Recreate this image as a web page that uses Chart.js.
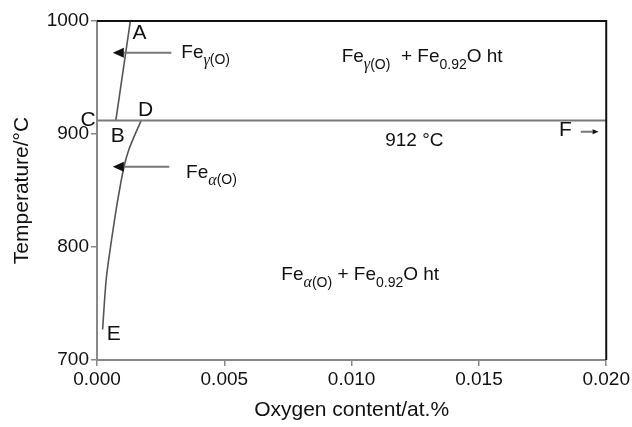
<!DOCTYPE html>
<html>
<head>
<meta charset="utf-8">
<script src="https://cdn.jsdelivr.net/npm/chart.js@4.4.1/dist/chart.umd.min.js"></script>
<style>
  body { margin: 0; background: #fff; }
  #wrap { width: 632px; height: 427px; }
</style>
</head>
<body>
<div id="wrap"><canvas id="myChart" width="632" height="427"></canvas></div>
<script>
// phase boundary A-B (gamma side), oxygen at.% vs temperature
var abX = [0.00074, 0.00131];
var abT = [912, 1000];

// phase boundary D-E (alpha side)
var deX = [0.00174, 0.00152, 0.00125, 0.00106, 0.00088, 0.00073, 0.00053, 0.00036, 0.00022];
var deT = [912, 901, 886, 871, 850, 830, 800, 771, 727];

// eutectoid line
var isoX = [0, 0.020];
var isoT = [912, 912];

// axis ticks
var xTicks = [0, 0.005, 0.010, 0.015, 0.020];
var yTicks = [700, 800, 900, 1000];

// point letters
var letterText = ["A", "B", "C", "D", "E", "F"];
var letterX = [0.00167, 0.00082, -0.00035, 0.00191, 0.00066, 0.0184];
var letterT = [989, 898, 912, 921, 723, 903];

// arrows (from -> to)
var arrowFromX = [0.00292, 0.00284, 0.0190];
var arrowToX = [0.00062, 0.00062, 0.0197];
var arrowT = [972, 871, 902];

function pts(xs, ts) {
    return xs.map((x, i) => ({ x: x, y: ts[i] }));
}

var FONT = "'Liberation Sans', Arial, sans-serif";
var GREEK = "'Liberation Serif', serif";

// rich labels: [text, size, dy, font, italic]
var richLabels = [
    { x: 0.00331, t: 972, parts: [["Fe", 19, 0, FONT], ["\u03B3", 16, 8, GREEK, true], ["(O)", 14, 8, FONT]] },
    { x: 0.00350, t: 866, parts: [["Fe", 19, 0, FONT], ["\u03B1", 16, 8, GREEK, true], ["(O)", 14, 8, FONT]] },
    { x: 0.00961, t: 968, parts: [["Fe", 19, 0, FONT], ["\u03B3", 16, 8, GREEK, true], ["(O)", 14, 8, FONT],
        ["  + Fe", 19, 0, FONT], ["0.92", 14, 8, FONT], ["O ht", 19, 0, FONT]] },
    { x: 0.00724, t: 775, parts: [["Fe", 19, 0, FONT], ["\u03B1", 16, 8, GREEK, true], ["(O)", 14, 8, FONT],
        [" + Fe", 19, 0, FONT], ["0.92", 14, 8, FONT], ["O ht", 19, 0, FONT]] },
    { x: 0.01132, t: 894, parts: [["912 \u00B0C", 19, 0, FONT]] }
];

const annot = {
    id: 'annot',
    afterDraw(chart) {
        const ctx = chart.ctx;
        const xs = chart.scales.x, ys = chart.scales.y;
        const a = chart.chartArea;
        ctx.save();

        // top and right frame
        ctx.strokeStyle = '#111';
        ctx.lineWidth = 2;
        ctx.beginPath();
        ctx.moveTo(a.left, a.top);
        ctx.lineTo(a.right, a.top);
        ctx.lineTo(a.right, a.bottom);
        ctx.stroke();

        // arrows
        arrowT.forEach((t, i) => {
            const x0 = xs.getPixelForValue(arrowFromX[i]);
            const x1 = xs.getPixelForValue(arrowToX[i]);
            const y = ys.getPixelForValue(t);
            const dir = x1 < x0 ? 1 : -1;
            const hl = i < 2 ? 11 : 6, hw = i < 2 ? 5 : 2.5;
            ctx.strokeStyle = '#777';
            ctx.lineWidth = 2;
            ctx.beginPath();
            ctx.moveTo(x0, y);
            ctx.lineTo(x1 + dir * hl, y);
            ctx.stroke();
            ctx.fillStyle = '#111';
            ctx.beginPath();
            ctx.moveTo(x1, y);
            ctx.lineTo(x1 + dir * hl, y - hw);
            ctx.lineTo(x1 + dir * hl, y + hw);
            ctx.closePath();
            ctx.fill();
        });

        // letters
        ctx.fillStyle = '#111';
        ctx.textAlign = 'center';
        ctx.textBaseline = 'middle';
        ctx.font = '21px ' + FONT;
        letterText.forEach((s, i) => {
            ctx.fillText(s, xs.getPixelForValue(letterX[i]), ys.getPixelForValue(letterT[i]));
        });

        // rich labels
        ctx.textAlign = 'left';
        richLabels.forEach(l => {
            let x = xs.getPixelForValue(l.x);
            const y = ys.getPixelForValue(l.t);
            l.parts.forEach(p => {
                ctx.font = (p[4] ? 'italic ' : '') + p[1] + 'px ' + p[3];
                ctx.fillText(p[0], x, y + p[2]);
                x += ctx.measureText(p[0]).width;
            });
        });

        // axis titles
        ctx.font = '21px ' + FONT;
        ctx.textAlign = 'center';
        ctx.fillText('Oxygen content/at.%', (a.left + a.right) / 2, 410);
        ctx.translate(22, (a.top + a.bottom) / 2);
        ctx.rotate(-Math.PI / 2);
        ctx.fillText('Temperature/\u00B0C', 0, 0);
        ctx.restore();
    }
};

var lineStyle = { showLine: true, pointRadius: 0, fill: false };

var config = {
    type: 'scatter',
    data: {
        datasets: [
            Object.assign({ data: pts(isoX, isoT), borderColor: '#7a7a7a', borderWidth: 2 }, lineStyle),
            Object.assign({ data: pts(abX, abT), borderColor: '#555', borderWidth: 1.6 }, lineStyle),
            Object.assign({ data: pts(deX, deT), borderColor: '#555', borderWidth: 1.6, tension: 0.3 }, lineStyle)
        ]
    },
    options: {
        responsive: false,
        animation: false,
        devicePixelRatio: 1,
        layout: { padding: { top: 21, right: 21, left: 0, bottom: 0 } },
        plugins: { legend: { display: false }, tooltip: { enabled: false } },
        scales: {
            x: {
                type: 'linear', min: 0, max: 0.020,
                afterFit: s => { s.height = 67; },
                afterBuildTicks: s => { s.ticks = xTicks.map(v => ({ value: v })); },
                border: { display: true, color: '#888', width: 2 },
                grid: { drawOnChartArea: false, drawTicks: true, tickLength: 6, color: '#888', lineWidth: 1.5 },
                ticks: { color: '#111', font: { size: 19, family: FONT }, padding: 2,
                    maxRotation: 0, callback: v => v.toFixed(3) }
            },
            y: {
                type: 'linear', min: 700, max: 1000,
                afterFit: s => { s.width = 97; },
                afterBuildTicks: s => { s.ticks = yTicks.map(v => ({ value: v })); },
                border: { display: true, color: '#888', width: 2 },
                grid: { drawOnChartArea: false, drawTicks: true, tickLength: 6, color: '#888', lineWidth: 1.5 },
                ticks: { color: '#111', font: { size: 19, family: FONT }, padding: 2,
                    callback: v => String(v) }
            }
        }
    },
    plugins: [annot]
};

new Chart(document.getElementById('myChart'), config);
</script>
</body>
</html>
